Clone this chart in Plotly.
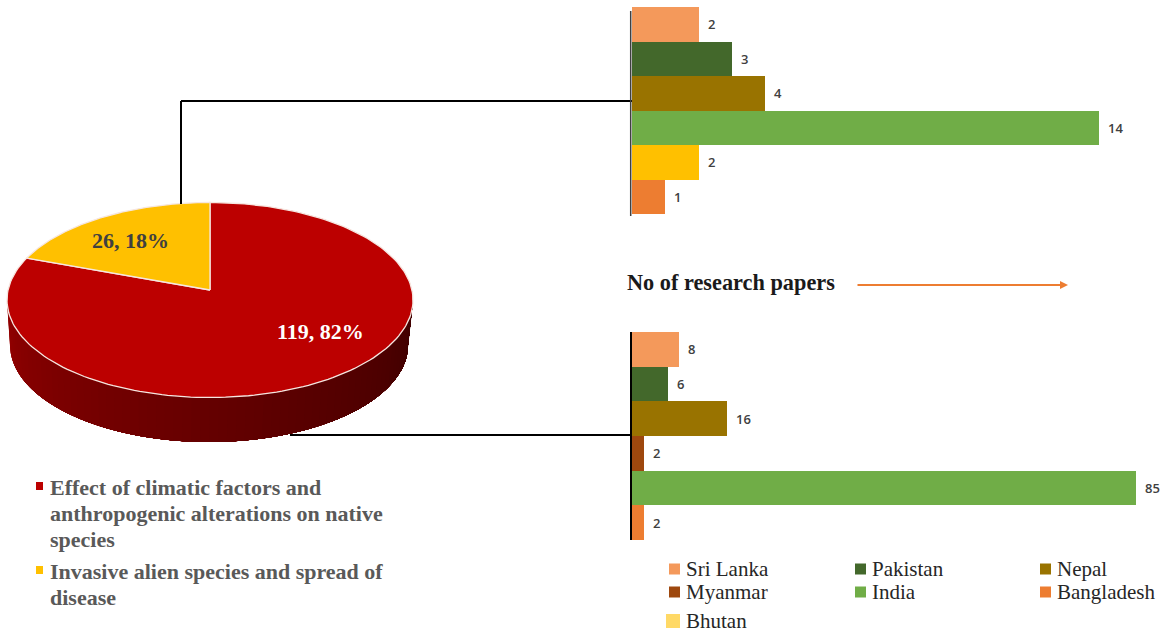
import math
import plotly.graph_objects as go

pie_names = [["Effect of climatic factors and", "anthropogenic alterations on native", "species"],
             ["Invasive alien species and spread of", "disease"]]
pie_values = [119, 26]
pie_labels = ["119, 82%", "26, 18%"]
pie_colors = ["#BC0000", "#FFC000"]

countries_top = ["Sri Lanka", "Pakistan", "Nepal", "India", "Bhutan", "Bangladesh"]
values_top = [2, 3, 4, 14, 2, 1]
colors_top = ["#F4995B", "#43682B", "#997300", "#70AD47", "#FFC000", "#ED7D31"]
countries_bot = ["Sri Lanka", "Pakistan", "Nepal", "Myanmar", "India", "Bangladesh"]
values_bot = [8, 6, 16, 2, 85, 2]
colors_bot = ["#F4995B", "#43682B", "#997300", "#9E480E", "#70AD47", "#ED7D31"]
legend_names = ["Sri Lanka", "Pakistan", "Nepal", "Myanmar", "India", "Bangladesh", "Bhutan"]
legend_colors = ["#F4995B", "#43682B", "#997300", "#9E480E", "#70AD47", "#ED7D31", "#FFD966"]

W, H = 1170, 639
fig = go.Figure()
SERIF = "Liberation Serif"
cx, cy, rx, ry = 210, 300, 203, 97.5      # top ellipse
apex_y = 290                               # wedge apex
bx, by, brx, bry = 209, 345, 199, 97       # bottom ellipse

# pie depth: overlapping rim strips, left (lighter) to right (darker)
n = 70
for i in range(n):
    a0 = math.pi * (1 - i / n)
    a1 = 0.0
    t = i / (n - 1)
    r = int(150 - 85 * t ** 0.8)
    col = f"rgb({r},0,0)"
    steps = [a0 + (a1 - a0) * s / 40 for s in range(41)]
    xs = [cx + rx * math.cos(a) for a in steps] + [bx + brx * math.cos(a) for a in reversed(steps)]
    ys = [cy + ry * math.sin(a) for a in steps] + [by + bry * math.sin(a) for a in reversed(steps)]
    fig.add_trace(go.Scatter(x=xs, y=ys, fill="toself", fillcolor=col, mode="none",
                             hoverinfo="skip", showlegend=False, xaxis="x", yaxis="y"))

# pie top: wedges from the values, clockwise from 12 o'clock (yellow ends at 12)
total = sum(pie_values)
start = 0.0
for v, col in zip(pie_values, pie_colors):
    sweep = v / total * 2 * math.pi
    k = 180
    xs, ys = [cx], [apex_y]
    for j in range(k + 1):
        a = start + sweep * j / k
        xs.append(cx + rx * math.sin(a))
        ys.append(cy - ry * math.cos(a))
    xs.append(cx); ys.append(apex_y)
    fig.add_trace(go.Scatter(x=xs, y=ys, fill="toself", fillcolor=col, mode="lines",
                             line=dict(color="#F6E6E0", width=1.3), hoverinfo="skip", showlegend=False,
                             xaxis="x", yaxis="y"))
    start += sweep

annotations = []
# bars
for xa, ya, cats, vals, cols in [("x2", "y2", countries_top, values_top, colors_top),
                                  ("x3", "y3", countries_bot, values_bot, colors_bot)]:
    fig.add_trace(go.Bar(y=cats, x=vals, orientation="h", marker=dict(color=cols, line=dict(width=0)),
                         width=1.0, xaxis=xa, yaxis=ya, showlegend=False, cliponaxis=False))
    for c, v in zip(cats, vals):
        annotations.append(dict(x=v, y=c, xref=xa, yref=ya, text=str(v), showarrow=False, xshift=7,
                                xanchor="left", yanchor="middle",
                                font=dict(family="Open Sans", size=13, color="#404040", weight=600)))


def dom_x(a, b):
    return [a / W, b / W]


def dom_y(top, bot):
    return [1 - bot / H, 1 - top / H]


fig.update_layout(
    width=W, height=H, margin=dict(l=0, r=0, t=0, b=0),
    paper_bgcolor="white", plot_bgcolor="rgba(0,0,0,0)", bargap=0,
    xaxis=dict(domain=[0, 1], range=[0, W], visible=False, fixedrange=True),
    yaxis=dict(domain=[0, 1], range=[H, 0], visible=False, fixedrange=True),
    xaxis2=dict(domain=dom_x(632, 1099), range=[0, 14], anchor="y2", visible=False),
    yaxis2=dict(domain=dom_y(7, 214), autorange="reversed", anchor="x2", visible=False, type="category"),
    xaxis3=dict(domain=dom_x(632, 1136), range=[0, 85], anchor="y3", visible=False),
    yaxis3=dict(domain=dom_y(332, 540), autorange="reversed", anchor="x3", visible=False, type="category"),
)

line = dict(color="black", width=2)
shapes = [
    dict(type="line", xref="x", yref="y", x0=181, x1=181, y0=204, y1=101, line=line),
    dict(type="line", xref="x", yref="y", x0=181, x1=632, y0=101, y1=101, line=line),
    dict(type="line", xref="x", yref="y", x0=290, x1=632, y0=435, y1=435, line=line),
    dict(type="line", xref="x", yref="y", x0=630.7, x1=630.7, y0=11, y1=216, line=dict(color="#404040", width=1.5)),
    dict(type="line", xref="x", yref="y", x0=631, x1=631, y0=332, y1=540, line=dict(color="black", width=2)),
]
annotations.append(dict(x=1068, y=285, ax=856, ay=285, xref="x", yref="y", axref="x", ayref="y", text="",
                        showarrow=True, arrowhead=2, arrowsize=0.8, arrowwidth=2, arrowcolor="#ED7D31"))


def text(x, y, s, size, color, bold=False, anchor="left", family=SERIF):
    annotations.append(dict(x=x, y=y, xref="x", yref="y", text=f"<b>{s}</b>" if bold else s, showarrow=False,
                            xanchor=anchor, yanchor="middle", align="left",
                            font=dict(family=family, size=size, color=color)))


text(731, 282, "No of research papers", 22.3, "#1a1a1a", True, "center")
text(320, 331, pie_labels[0], 22, "white", True, "center")
text(130, 240, pie_labels[1], 22, "#404040", True, "center")
for lines, y0, col in [(pie_names[0], 487, pie_colors[0]), (pie_names[1], 571, pie_colors[1])]:
    for k, s in enumerate(lines):
        text(48, y0 + 26 * k, s, 22, "#595959", True)
    shapes.append(dict(type="rect", xref="x", yref="y", x0=36, x1=43, y0=y0 - 5, y1=y0 + 3,
                       fillcolor=col, line=dict(width=0)))

legend_x = [669, 855, 1040]
legend_y = [569, 592, 621]
for i, (nm, col) in enumerate(zip(legend_names, legend_colors)):
    lx, ly = legend_x[i % 3], legend_y[i // 3]
    s = 14 if nm == "Bhutan" else 11
    shapes.append(dict(type="rect", xref="x", yref="y", x0=lx - (s - 11), x1=lx + 11, y0=ly - s / 2, y1=ly + s / 2,
                       fillcolor=col, line=dict(width=0)))
    text(lx + 15, ly, nm, 21, "#262626")

fig.update_layout(shapes=shapes, annotations=annotations)
fig.write_html("out.html", config=dict(displayModeBar=False),
               post_script="document.body.style.margin='0';")
